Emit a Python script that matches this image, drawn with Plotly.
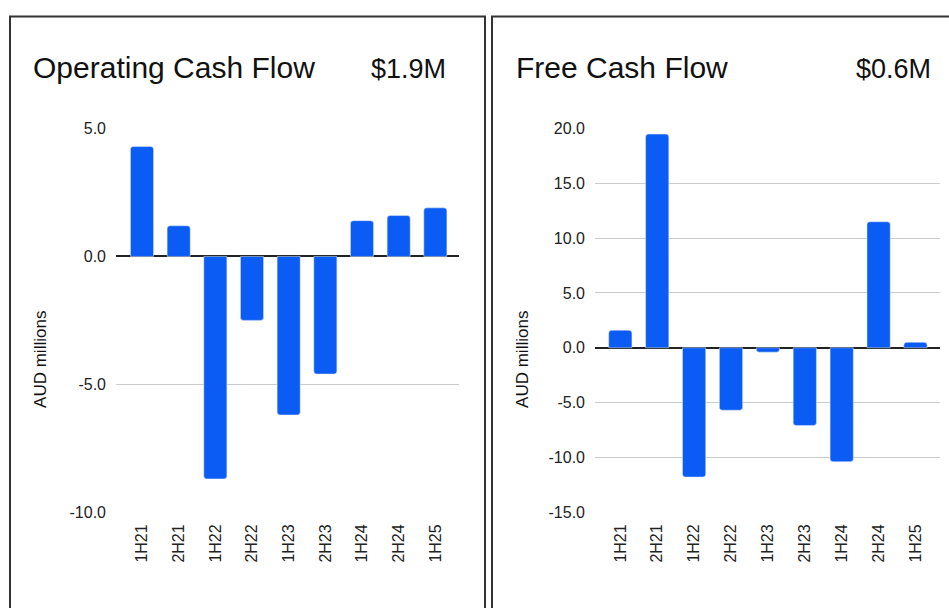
import plotly.graph_objects as go

# half-year periods shown on both charts
periods = ['1H21', '2H21', '1H22', '2H22', '1H23', '2H23', '1H24', '2H24', '1H25']

# AUD millions
operating_cf = [4.3, 1.2, -8.7, -2.5, -6.2, -4.6, 1.4, 1.6, 1.9]
free_cf = [1.6, 19.5, -11.8, -5.7, -0.4, -7.1, -10.4, 11.5, 0.5]

# y ticks (plain hyphen minus as in the original)
ocf_ticks = [-10, -5, 0, 5]
ocf_labels = ['-10.0', '-5.0', '0.0', '5.0']
fcf_ticks = [-15, -10, -5, 0, 5, 10, 15, 20]
fcf_labels = ['-15.0', '-10.0', '-5.0', '0.0', '5.0', '10.0', '15.0', '20.0']

titles = ['Operating Cash Flow', 'Free Cash Flow']
latest = ['$1.9M', '$0.6M']

W, H = 949, 608
BLUE = '#0b5cf5'
FONT = 'Liberation Sans, Arial, sans-serif'

# the page ends up drawing the figure ~592px tall a few px down,
# so paper positions are worked out against that
DRAWN_H, TOP_OFF = 592, 6.5


def px_x(v):
    return v / W


def px_y(v):
    return 1 - (v - TOP_OFF) / DRAWN_H


fig = go.Figure()

fig.add_trace(go.Bar(x=periods, y=operating_cf, marker=dict(color=BLUE, cornerradius=3),
                     xaxis='x', yaxis='y', hoverinfo='x+y'))
fig.add_trace(go.Bar(x=periods, y=free_cf, marker=dict(color=BLUE, cornerradius=3),
                     xaxis='x2', yaxis='y2', hoverinfo='x+y'))

ydom = [px_y(511.5), px_y(127.3)]
common_x = dict(type='category', tickangle=-90, showgrid=False, showline=False,
                ticks='', ticklabelstandoff=8, tickfont=dict(size=16, color='#222'))
common_y = dict(domain=ydom, tickmode='array', showline=False, ticks='',
                gridcolor='#cccccc', gridwidth=1, zeroline=True, zerolinecolor='#222',
                zerolinewidth=1.5, ticklabelstandoff=9, tickfont=dict(size=16, color='#222'))

fig.update_layout(
    width=W, height=H,
    margin=dict(l=0, r=0, t=0, b=0),
    paper_bgcolor='white', plot_bgcolor='white',
    font=dict(family=FONT, color='#111'),
    showlegend=False,
    bargap=0.37,
    xaxis=dict(domain=[px_x(116), px_x(459)], range=[-0.709, 8.645], anchor='y', **common_x),
    yaxis=dict(range=[-10, 5], anchor='x', tickvals=ocf_ticks, ticktext=ocf_labels, **common_y),
    xaxis2=dict(domain=[px_x(595), px_x(940)], range=[-0.686, 8.664], anchor='y2', **common_x),
    yaxis2=dict(range=[-15, 20], anchor='x2', tickvals=fcf_ticks, ticktext=fcf_labels, **common_y),
)

# panel frames
for x0, x1 in [(10, 485), (492, 960)]:
    fig.add_shape(type='rect', xref='paper', yref='paper',
                  x0=px_x(x0), x1=px_x(x1), y0=px_y(640), y1=px_y(15),
                  line=dict(color='#333333', width=2), fillcolor='rgba(0,0,0,0)')

# titles and latest values
for tx, vx, title, val in [(31, 448, titles[0], latest[0]), (514, 933, titles[1], latest[1])]:
    fig.add_annotation(text=title, xref='paper', yref='paper', x=px_x(tx), y=px_y(66),
                       xanchor='left', yanchor='middle', showarrow=False,
                       font=dict(size=30, color='#111', family=FONT))
    fig.add_annotation(text=val, xref='paper', yref='paper', x=px_x(vx), y=px_y(68),
                       xanchor='right', yanchor='middle', showarrow=False,
                       font=dict(size=27, color='#111', family=FONT))

# y-axis titles
for ax in [41, 523]:
    fig.add_annotation(text='AUD millions', xref='paper', yref='paper', x=px_x(ax), y=px_y(359),
                       xanchor='center', yanchor='middle', textangle=-90, showarrow=False,
                       font=dict(size=17, color='#111', family=FONT))

# page margin off so the figure sits at the window corner
fig.write_html("out.html", post_script="document.body.style.margin='0';",
               config={'displayModeBar': False})
